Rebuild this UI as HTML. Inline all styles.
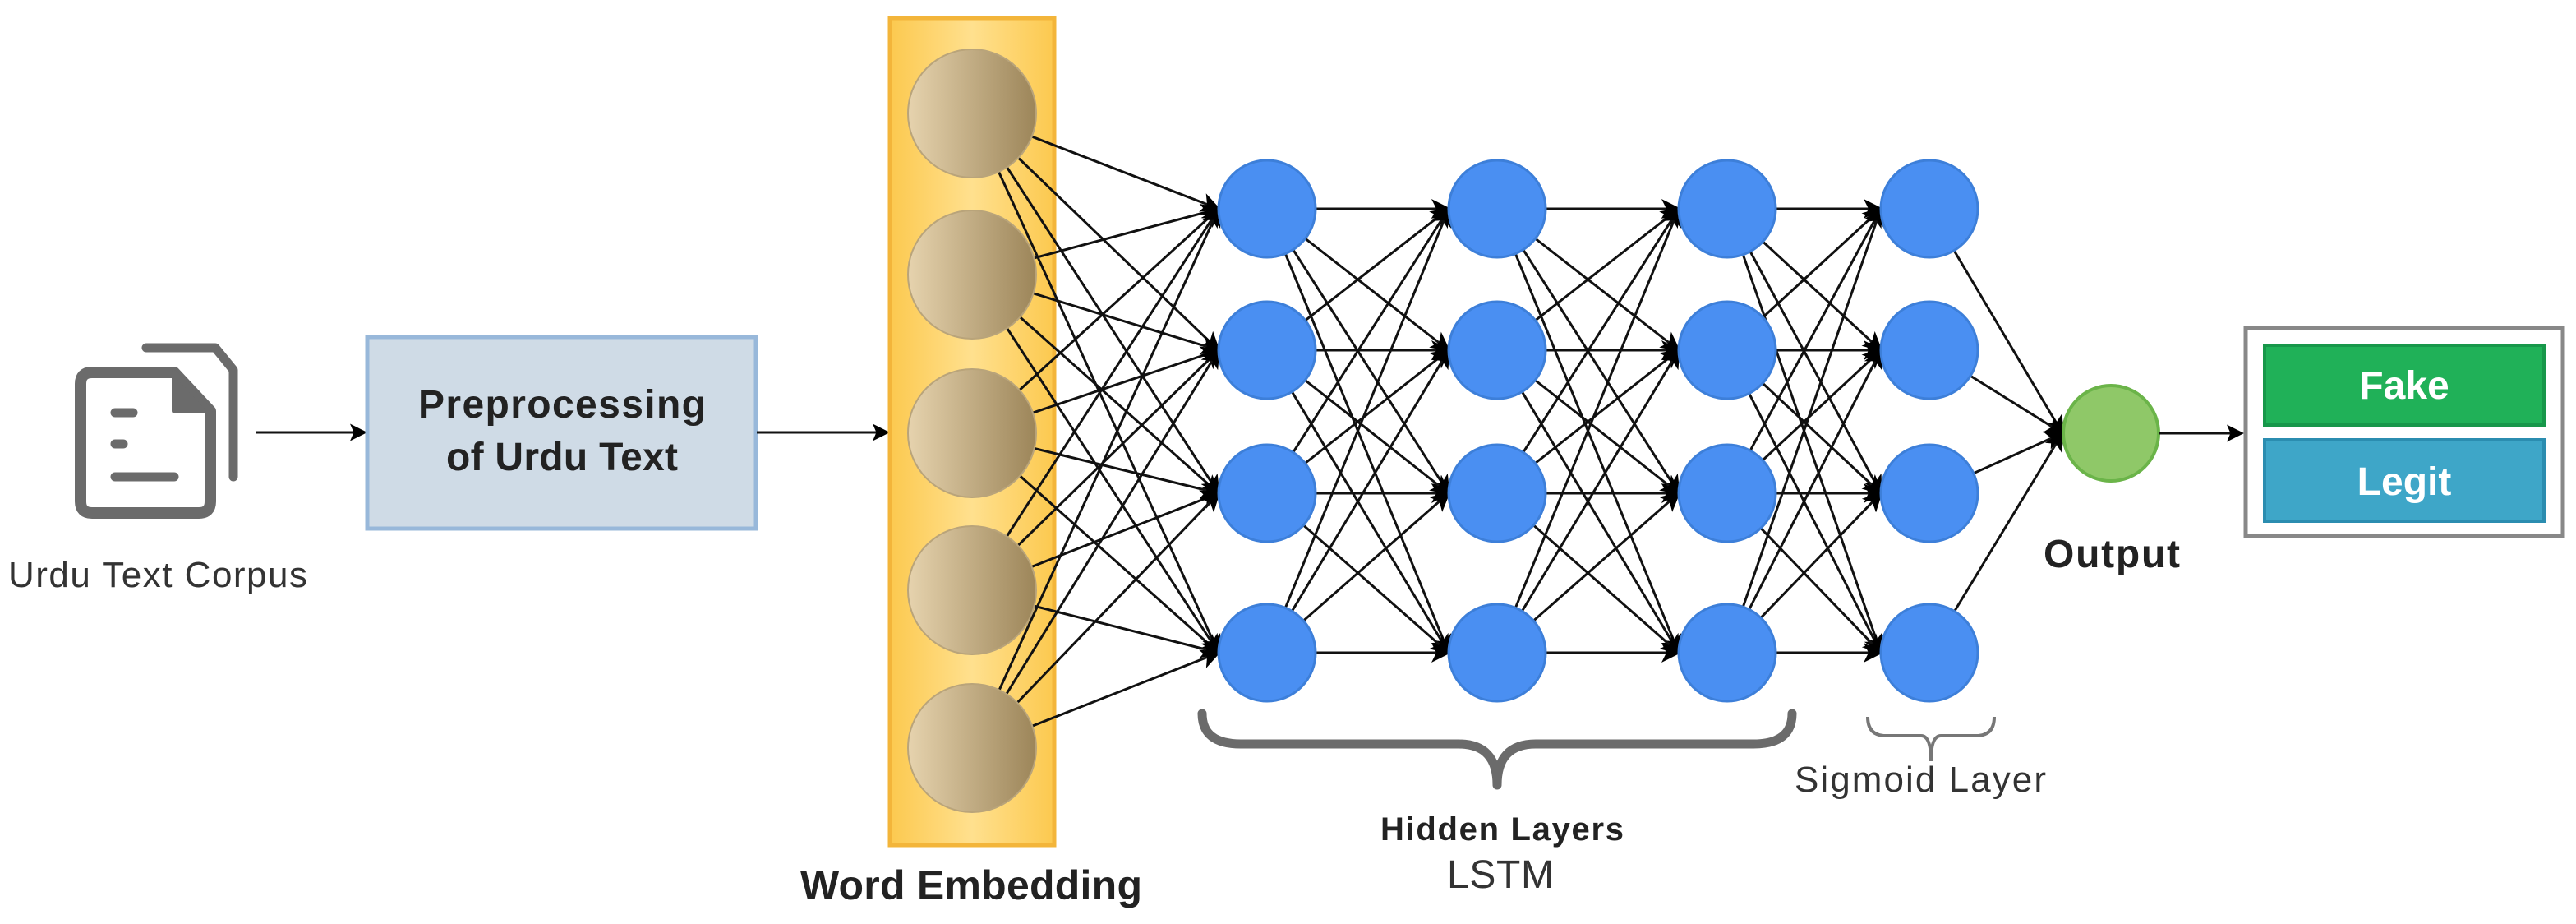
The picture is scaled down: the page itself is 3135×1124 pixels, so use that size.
<!DOCTYPE html>
<html><head><meta charset="utf-8"><style>
html,body{margin:0;padding:0;background:#fff}
svg{display:block}
text{font-family:"Liberation Sans",Arial,sans-serif}
.c line{stroke:#111;stroke-width:3;marker-end:url(#ah)}
</style></head><body>
<svg width="3135" height="1124" viewBox="0 0 3135 1124" xmlns="http://www.w3.org/2000/svg">
<defs>
<marker id="ah" markerWidth="8" markerHeight="8" refX="7" refY="4" orient="auto" markerUnits="strokeWidth"><path d="M0,0 L8,4 L0,8 L2,4 Z" fill="#000"/></marker>
<marker id="ah2" markerWidth="7" markerHeight="7" refX="6" refY="3.5" orient="auto" markerUnits="strokeWidth"><path d="M0,0 L7,3.5 L0,7 L1.5,3.5 Z" fill="#000"/></marker>
<linearGradient id="emb" x1="0" x2="1"><stop offset="0" stop-color="#fcc94f"/><stop offset="0.5" stop-color="#ffe08e"/><stop offset="1" stop-color="#fcc94f"/></linearGradient>
<linearGradient id="tan" x1="0" x2="1"><stop offset="0" stop-color="#e6d3ae"/><stop offset="1" stop-color="#9c8559"/></linearGradient>
</defs>

<g fill="none" stroke="#6b6b6b" stroke-linecap="round" stroke-linejoin="round">
<path d="M178,423 L262,423 L284,450 L284,580" stroke-width="11"/>
<path d="M112,453 L212,453 L256,500 L256,610 Q256,624 242,624 L112,624 Q98,624 98,610 L98,467 Q98,453 112,453 Z" stroke-width="14"/>
<path d="M212,453 L212,500 L256,500 Z" fill="#6b6b6b" stroke-width="6"/>
<path d="M140,502 L162,502 M140,540 L150,540 M140,580 L212,580" stroke-width="11"/>
</g>
<text x="192" y="714" font-size="44" fill="#333" text-anchor="middle" textLength="364">Urdu Text Corpus</text>

<line x1="312" y1="526" x2="444" y2="526" stroke="#111" stroke-width="3" marker-end="url(#ah2)"/>
<rect x="447" y="410" width="473" height="233" fill="#cfdbe6" stroke="#98b8da" stroke-width="5"/>
<text x="684" y="508" font-size="48" font-weight="bold" fill="#222" text-anchor="middle" textLength="350">Preprocessing</text>
<text x="684" y="572" font-size="48" font-weight="bold" fill="#222" text-anchor="middle" textLength="282">of Urdu Text</text>
<line x1="921" y1="526" x2="1080" y2="526" stroke="#111" stroke-width="3" marker-end="url(#ah2)"/>

<rect x="1083" y="22" width="200" height="1006" fill="url(#emb)" stroke="#f3b53a" stroke-width="5"/>
<text x="1182" y="1094" font-size="50" font-weight="bold" fill="#222" text-anchor="middle" textLength="416">Word Embedding</text>

<g class="c">
<line x1="1183" y1="138" x2="1483" y2="254"/><line x1="1183" y1="138" x2="1483" y2="426"/><line x1="1183" y1="138" x2="1483" y2="600"/><line x1="1183" y1="138" x2="1483" y2="794"/>
<line x1="1183" y1="334" x2="1483" y2="254"/><line x1="1183" y1="334" x2="1483" y2="426"/><line x1="1183" y1="334" x2="1483" y2="600"/><line x1="1183" y1="334" x2="1483" y2="794"/>
<line x1="1183" y1="527" x2="1483" y2="254"/><line x1="1183" y1="527" x2="1483" y2="426"/><line x1="1183" y1="527" x2="1483" y2="600"/><line x1="1183" y1="527" x2="1483" y2="794"/>
<line x1="1183" y1="718" x2="1483" y2="254"/><line x1="1183" y1="718" x2="1483" y2="426"/><line x1="1183" y1="718" x2="1483" y2="600"/><line x1="1183" y1="718" x2="1483" y2="794"/>
<line x1="1183" y1="912" x2="1483" y2="254"/><line x1="1183" y1="912" x2="1483" y2="426"/><line x1="1183" y1="912" x2="1483" y2="600"/><line x1="1183" y1="912" x2="1483" y2="794"/>

<line x1="1542" y1="254" x2="1763" y2="254"/><line x1="1542" y1="254" x2="1763" y2="426"/><line x1="1542" y1="254" x2="1763" y2="600"/><line x1="1542" y1="254" x2="1763" y2="794"/>
<line x1="1542" y1="426" x2="1763" y2="254"/><line x1="1542" y1="426" x2="1763" y2="426"/><line x1="1542" y1="426" x2="1763" y2="600"/><line x1="1542" y1="426" x2="1763" y2="794"/>
<line x1="1542" y1="600" x2="1763" y2="254"/><line x1="1542" y1="600" x2="1763" y2="426"/><line x1="1542" y1="600" x2="1763" y2="600"/><line x1="1542" y1="600" x2="1763" y2="794"/>
<line x1="1542" y1="794" x2="1763" y2="254"/><line x1="1542" y1="794" x2="1763" y2="426"/><line x1="1542" y1="794" x2="1763" y2="600"/><line x1="1542" y1="794" x2="1763" y2="794"/>

<line x1="1822" y1="254" x2="2043" y2="254"/><line x1="1822" y1="254" x2="2043" y2="426"/><line x1="1822" y1="254" x2="2043" y2="600"/><line x1="1822" y1="254" x2="2043" y2="794"/>
<line x1="1822" y1="426" x2="2043" y2="254"/><line x1="1822" y1="426" x2="2043" y2="426"/><line x1="1822" y1="426" x2="2043" y2="600"/><line x1="1822" y1="426" x2="2043" y2="794"/>
<line x1="1822" y1="600" x2="2043" y2="254"/><line x1="1822" y1="600" x2="2043" y2="426"/><line x1="1822" y1="600" x2="2043" y2="600"/><line x1="1822" y1="600" x2="2043" y2="794"/>
<line x1="1822" y1="794" x2="2043" y2="254"/><line x1="1822" y1="794" x2="2043" y2="426"/><line x1="1822" y1="794" x2="2043" y2="600"/><line x1="1822" y1="794" x2="2043" y2="794"/>

<line x1="2102" y1="254" x2="2289" y2="254"/><line x1="2102" y1="254" x2="2289" y2="426"/><line x1="2102" y1="254" x2="2289" y2="600"/><line x1="2102" y1="254" x2="2289" y2="794"/>
<line x1="2102" y1="426" x2="2289" y2="254"/><line x1="2102" y1="426" x2="2289" y2="426"/><line x1="2102" y1="426" x2="2289" y2="600"/><line x1="2102" y1="426" x2="2289" y2="794"/>
<line x1="2102" y1="600" x2="2289" y2="254"/><line x1="2102" y1="600" x2="2289" y2="426"/><line x1="2102" y1="600" x2="2289" y2="600"/><line x1="2102" y1="600" x2="2289" y2="794"/>
<line x1="2102" y1="794" x2="2289" y2="254"/><line x1="2102" y1="794" x2="2289" y2="426"/><line x1="2102" y1="794" x2="2289" y2="600"/><line x1="2102" y1="794" x2="2289" y2="794"/>

<line x1="2348" y1="254" x2="2510" y2="527"/><line x1="2348" y1="426" x2="2510" y2="527"/><line x1="2348" y1="600" x2="2510" y2="527"/><line x1="2348" y1="794" x2="2510" y2="527"/>
</g>

<g fill="url(#tan)" stroke="#b9a47a" stroke-width="2">
<ellipse cx="1183" cy="138" rx="78" ry="78"/><ellipse cx="1183" cy="334" rx="78" ry="78"/><ellipse cx="1183" cy="527" rx="78" ry="78"/><ellipse cx="1183" cy="718" rx="78" ry="78"/><ellipse cx="1183" cy="910" rx="78" ry="78"/>
</g>
<g fill="#4a8ff2" stroke="#3d7fd9" stroke-width="3">
<circle cx="1542" cy="254" r="59"/><circle cx="1542" cy="426" r="59"/><circle cx="1542" cy="600" r="59"/><circle cx="1542" cy="794" r="59"/>
<circle cx="1822" cy="254" r="59"/><circle cx="1822" cy="426" r="59"/><circle cx="1822" cy="600" r="59"/><circle cx="1822" cy="794" r="59"/>
<circle cx="2102" cy="254" r="59"/><circle cx="2102" cy="426" r="59"/><circle cx="2102" cy="600" r="59"/><circle cx="2102" cy="794" r="59"/>
<circle cx="2348" cy="254" r="59"/><circle cx="2348" cy="426" r="59"/><circle cx="2348" cy="600" r="59"/><circle cx="2348" cy="794" r="59"/>
</g>
<circle cx="2569" cy="527" r="58" fill="#8fc868" stroke="#6bb449" stroke-width="4"/>
<text x="2570" y="690" font-size="48" font-weight="bold" fill="#222" text-anchor="middle" textLength="166">Output</text>
<line x1="2627" y1="527" x2="2728" y2="527" stroke="#111" stroke-width="3" marker-end="url(#ah2)"/>

<rect x="2733" y="399" width="386" height="253" fill="#fff" stroke="#888" stroke-width="5"/>
<rect x="2756" y="420" width="340" height="97" fill="#20b158" stroke="#17974a" stroke-width="4"/>
<text x="2926" y="485" font-size="48" font-weight="bold" fill="#fff" text-anchor="middle">Fake</text>
<rect x="2756" y="535" width="340" height="99" fill="#3ea6c8" stroke="#2b8db0" stroke-width="4"/>
<text x="2926" y="602" font-size="48" font-weight="bold" fill="#fff" text-anchor="middle">Legit</text>

<path d="M1463,868 Q1463,905 1510,905 L1775,905 Q1822,905 1822,955 Q1822,905 1869,905 L2134,905 Q2181,905 2181,868" fill="none" stroke="#6b6b6b" stroke-width="11" stroke-linecap="round" stroke-linejoin="round"/>
<text x="1828" y="1022" font-size="40" font-weight="bold" fill="#222" text-anchor="middle" textLength="296">Hidden Layers</text>
<text x="1826" y="1080" font-size="48" fill="#333" text-anchor="middle" textLength="130">LSTM</text>

<path d="M2273,872 Q2273,895 2295,895 L2338,895 Q2350,895 2350,926 Q2350,895 2362,895 L2405,895 Q2427,895 2427,872" fill="none" stroke="#777" stroke-width="4"/>
<text x="2337" y="963" font-size="44" fill="#333" text-anchor="middle" textLength="306">Sigmoid Layer</text>
</svg>
</body></html>
